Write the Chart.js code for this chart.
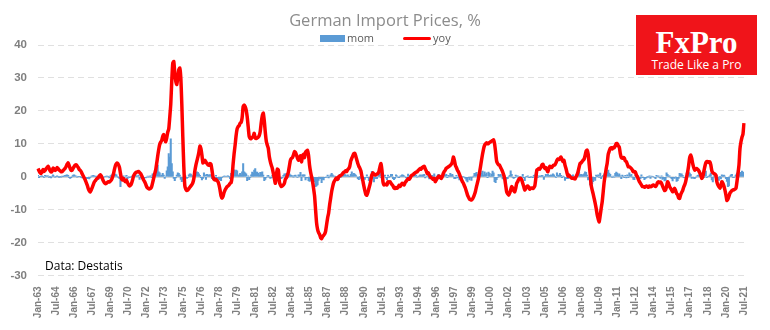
<!DOCTYPE html>
<html lang="en">
<head>
  <meta charset="UTF-8">
  <title>German Import Prices, %</title>
  <script src="https://cdn.jsdelivr.net/npm/chart.js"></script>
  <style>
    html, body {
      margin: 0;
      padding: 0;
      background: #ffffff;
    }
    .wrap {
      position: relative;
      width: 770px;
      height: 330px;
      overflow: hidden;
    }
    #chart {
      position: absolute;
      left: 0;
      top: 0;
    }
    .title {
      position: absolute;
      left: 0;
      width: 770px;
      top: 8px;
      text-align: center;
      font-family: 'Open Sans', sans-serif;
      font-size: 16.5px;
      color: #8c8c8c;
    }
    .legend {
      position: absolute;
      top: 31px;
      left: 320px;
      font-family: 'Open Sans', sans-serif;
      font-size: 11px;
      color: #595959;
      line-height: 14px;
    }
    .legend span { position: absolute; white-space: nowrap; }
    .sw-bar { width: 25px; height: 7px; background: #5b9bd5; top: 4px; }
    .sw-line { width: 28px; height: 3px; background: #ff0000; top: 6px; border-radius: 2px; }
    .source {
      position: absolute;
      left: 45px;
      top: 257px;
      font-family: 'Open Sans', sans-serif;
      font-size: 12px;
      color: #000;
    }
    .logo {
      position: absolute;
      left: 636px;
      top: 15px;
      width: 121px;
      height: 60px;
      background: #f0141a;
      color: #fff;
      text-align: center;
    }
    .logo .brand {
      position: absolute;
      left: 0; width: 121px;
      top: 12px;
      font-family: 'Liberation Serif', serif;
      font-weight: bold;
      font-size: 31px;
      line-height: 31px;
    }
    .logo .tag {
      position: absolute;
      left: 0; width: 121px;
      top: 43px;
      font-family: 'Open Sans', sans-serif;
      font-size: 12px;
      line-height: 14px;
    }
  </style>
</head>
<body>
<div class="wrap">
  <canvas id="chart" width="770" height="330"></canvas>
  <div class="title">German Import Prices, %</div>
  <div class="legend">
    <span class="sw-bar" style="left:0"></span>
    <span style="left:27px">mom</span>
    <span class="sw-line" style="left:83px"></span>
    <span style="left:113px">yoy</span>
  </div>
  <div class="source">Data: Destatis</div>
  <div class="logo">
    <div class="brand">FxPro</div>
    <div class="tag">Trade Like a Pro</div>
  </div>
</div>

<script>
// monthly series, Jan-63 .. Jul-21, one row per year
const yoy = [
  2.5, 1.8, 1.2, 1.0, 1.5, 2.2, 1.6, 1.9, 2.4, 2.8, 3.2, 2.6,
  1.8, 1.4, 1.7, 2.6, 2.4, 1.9, 2.2, 2.8, 2.5, 2.0, 1.8, 1.5,
  1.6, 1.9, 2.2, 2.6, 3.1, 3.8, 4.2, 3.4, 2.5, 1.9, 2.0, 2.6,
  3.1, 3.5, 3.6, 3.2, 2.8, 2.2, 1.9, 1.5, 0.8, 0.2, -0.4, -1.0,
  -1.8, -2.6, -3.6, -4.3, -4.6, -4.0, -3.2, -2.4, -1.6, -1.2, -0.8, -0.5,
  -0.2, 0.3, 0.6, 0.2, -0.6, -1.3, -1.8, -2.1, -2.0, -1.7, -1.5, -1.6,
  -1.3, -1.0, -0.2, 0.8, 2.2, 3.4, 4.0, 4.1, 3.6, 2.8, 1.0, -0.6,
  -1.0, -0.5, -1.2, -1.5, -1.0, -1.8, -2.4, -2.8, -2.6, -2.0, -1.0, 0.2,
  0.8, 1.2, 1.4, 1.5, 1.6, 1.3, 1.0, 0.4, -0.3, -1.0, -1.5, -2.2,
  -3.0, -3.4, -3.6, -3.7, -3.5, -3.0, -1.8, -0.5, 0.8, 2.0, 4.0, 6.2,
  8.2, 9.8, 10.5, 11.0, 12.2, 12.8, 11.5, 10.6, 11.8, 13.5, 14.5, 18.0,
  22.0, 29.0, 34.5, 35.0, 31.5, 29.0, 28.0, 30.0, 32.5, 33.0, 30.0, 22.0,
  12.0, 3.0, -2.8, -3.8, -4.2, -4.0, -3.6, -3.2, -2.8, -2.4, -1.8, -0.5,
  1.8, 3.5, 4.8, 6.0, 7.5, 9.3, 8.5, 6.5, 4.2, 4.5, 5.0, 4.5,
  4.0, 3.6, 3.5, 4.0, 3.8, 2.0, 0.0, -0.8, -1.0, -0.8, -1.2, -1.5,
  -2.5, -4.0, -5.8, -6.5, -6.0, -4.8, -4.0, -3.5, -3.0, -2.8, -2.5, -2.0,
  -1.8, 0.0, 3.8, 7.0, 9.6, 12.5, 14.5, 15.2, 15.5, 16.3, 16.5, 18.0,
  21.3, 21.8, 21.3, 20.2, 18.2, 15.2, 12.2, 11.6, 11.6, 12.0, 12.2, 13.2,
  11.7, 11.6, 11.8, 12.0, 12.5, 13.8, 16.5, 18.5, 19.3, 17.0, 13.5, 10.8,
  9.6, 8.6, 6.1, 4.6, 3.5, 2.5, 1.0, -0.5, -2.0, 0.5, 2.3, 2.0,
  -1.5, -2.5, -3.0, -2.8, -2.5, -2.0, -0.7, -0.3, 0.5, 1.5, 3.3, 5.0,
  5.6, 5.8, 6.6, 7.6, 7.4, 6.6, 5.6, 5.0, 5.4, 6.4, 4.5, 6.2,
  6.8, 5.8, 7.4, 7.8, 8.0, 6.5, 3.5, 1.5, 0.0, -1.5, -3.5, -5.8,
  -10.0, -14.0, -16.0, -17.0, -17.5, -18.5, -18.8, -18.2, -17.8, -17.4, -16.5, -14.5,
  -12.5, -11.0, -8.5, -6.5, -4.5, -3.0, -1.8, -1.2, -0.6, -0.4, -0.8, 0.0,
  0.2, 0.4, 0.6, 1.0, 1.3, 1.5, 1.8, 1.6, 2.2, 2.5, 3.2, 4.8,
  5.6, 6.3, 7.0, 7.1, 6.2, 5.1, 4.0, 3.2, 2.6, 1.8, 0.3, -1.2,
  -2.8, -4.2, -5.4, -5.6, -4.8, -3.6, -2.5, -1.0, 0.5, 1.2, 0.8, 0.5,
  0.6, 0.8, 1.0, 1.6, 3.0, 4.0, 2.0, -1.5, -2.5, -2.4, -2.2, -2.5,
  -1.5, -1.6, -1.5, -2.0, -2.4, -2.8, -3.4, -3.6, -3.3, -3.5, -3.2, -2.6,
  -3.0, -2.5, -2.0, -2.2, -2.5, -1.8, -1.4, -1.0, -0.6, -0.8, -0.4, 0.2,
  0.5, 0.6, 1.0, 1.2, 1.4, 1.5, 1.9, 2.2, 2.5, 2.3, 2.8, 3.0,
  3.2, 2.4, 1.8, 1.0, 1.2, 0.6, 0.0, -0.3, -0.5, -0.8, -0.5, -1.5,
  -1.0, -0.5, 0.0, 0.2, -0.3, -0.5, 0.0, 1.0, 1.6, 2.0, 2.6, 2.8,
  3.0, 3.2, 3.5, 3.8, 4.5, 6.0, 5.0, 3.5, 2.8, 2.0, 1.5, 0.8,
  0.0, -0.8, -1.5, -2.0, -2.8, -3.5, -4.5, -5.5, -6.2, -6.8, -7.0, -7.1,
  -6.8, -6.2, -5.4, -4.4, -3.0, -1.8, -0.5, 1.2, 3.0, 5.0, 6.8, 8.4,
  9.5, 10.0, 10.3, 10.0, 10.1, 10.4, 10.6, 10.8, 11.0, 11.2, 10.0, 7.5,
  4.8, 4.0, 3.6, 3.5, 2.8, 2.2, 1.5, 0.6, -0.5, -2.5, -4.6, -5.2,
  -5.6, -5.0, -4.0, -3.0, -3.5, -4.2, -4.6, -3.5, -2.0, -1.5, -0.8, -0.5,
  -0.5, -1.0, -2.0, -3.0, -4.0, -3.6, -3.0, -2.8, -3.2, -3.8, -3.5, -3.4,
  -3.6, -3.3, -2.8, -0.5, 2.0, 2.2, 2.5, 2.3, 2.8, 3.5, 3.8, 3.0,
  2.5, 2.8, 2.0, 1.5, 2.6, 3.2, 3.0, 2.8, 3.3, 3.5, 3.6, 4.2,
  5.0, 5.4, 5.2, 5.6, 6.0, 5.2, 4.6, 5.0, 3.5, 2.5, 1.2, 0.2,
  0.5, 0.0, -0.3, -0.5, -0.4, -0.6, -0.7, 0.0, 0.6, 1.5, 2.8, 4.0,
  4.2, 4.6, 5.0, 5.3, 6.4, 7.8, 8.1, 7.0, 4.0, 1.0, -2.5, -4.0,
  -5.2, -6.6, -8.0, -9.6, -11.5, -12.8, -13.7, -11.8, -9.6, -7.6, -4.6, -1.5,
  0.5, 2.5, 4.2, 6.8, 7.8, 8.6, 8.8, 8.4, 8.9, 8.8, 9.3, 10.1,
  10.0, 9.4, 9.0, 7.0, 5.8, 5.6, 5.8, 5.6, 4.8, 4.6, 3.8, 3.0,
  3.0, 2.8, 2.5, 2.0, 1.5, 1.6, 1.4, 0.5, 0.0, -0.8, -1.5, -2.0,
  -2.5, -3.0, -3.0, -3.2, -3.0, -2.8, -3.0, -3.2, -2.8, -3.0, -3.0, -2.6,
  -2.5, -2.8, -3.0, -2.6, -1.8, -1.5, -1.8, -1.6, -2.0, -2.8, -3.5, -4.2,
  -4.0, -3.0, -1.5, -2.0, -3.0, -3.5, -4.0, -4.6, -4.2, -3.5, -4.2, -5.1,
  -5.5, -6.4, -6.6, -5.5, -4.8, -4.2, -3.2, -2.5, -1.5, 0.0, 1.5, 3.5,
  5.8, 6.6, 5.6, 4.0, 2.8, 2.0, 2.3, 2.5, 2.2, 1.8, 1.2, 0.5,
  -0.5, 0.0, 1.5, 3.0, 4.2, 4.6, 4.6, 4.3, 4.5, 3.6, 1.8, 1.2,
  1.0, 0.8, 0.5, -1.5, -2.5, -3.0, -3.5, -2.8, -1.5, -2.0, -2.8, -4.0,
  -5.5, -7.2, -6.8, -6.0, -5.0, -4.6, -4.2, -4.0, -4.0, -3.8, -3.5, -1.5,
  1.0, 3.5, 8.5, 10.6, 12.0, 13.0, 16.3
];

const mom = [
  0.4, -0.3, 0.1, 0.2, 0.3, 0.1, -0.2, 0.4, 0.3, 0.2, 0.3, -0.2,
  0.1, -0.4, 0.2, 0.6, 0.2, -0.1, 0.1, 0.3, 0.1, -0.2, 0.1, -0.1,
  0.2, 0.1, 0.3, 0.4, 0.5, 0.6, 0.4, -0.3, -0.5, -0.3, 0.2, 0.5,
  0.6, 0.3, 0.2, -0.1, 0.1, 0.0, 0.1, -0.2, -0.4, -0.3, -0.2, -0.4,
  -0.6, -0.5, -0.6, -0.7, -0.2, 0.2, 0.3, 0.4, 0.3, 0.1, 0.2, 0.1,
  -0.8, 0.3, 0.0, -0.5, -1.0, -0.4, 0.0, 0.1, 0.2, 0.2, 0.1, -0.4,
  0.3, 0.5, 0.8, 0.6, 0.5, 0.8, 0.6, 0.1, -0.3, -0.6, -3.0, -0.3,
  0.0, 0.3, -0.3, 0.2, 0.4, -0.6, 0.0, -0.3, -0.1, 0.1, 0.3, 0.3,
  0.7, 0.6, 0.1, 0.3, 0.5, -0.8, -0.3, -0.4, -0.6, -0.6, -0.2, -0.4,
  -0.1, 0.2, -0.1, 0.2, 0.3, -0.3, 0.9, 0.9, 0.7, 0.5, 1.8, 3.5,
  1.5, 1.2, 0.3, 0.5, 1.0, 0.5, -0.5, 0.2, 1.8, 3.0, 7.0, 6.0,
  11.5, 4.0, 1.5, -0.5, -1.2, -0.4, 0.5, 1.2, 1.0, 0.5, -0.8, -1.5,
  -1.0, -1.2, -0.6, 0.2, -0.5, -0.2, 0.6, 0.9, 0.8, 0.2, 0.3, 0.5,
  1.2, 0.8, 1.5, 1.3, 0.9, 0.4, -0.3, -1.0, -0.5, 1.2, 0.6, -0.8,
  0.7, 0.5, 0.6, 0.6, 0.6, -0.6, -0.8, -0.5, -0.4, 0.4, -0.4, -1.1,
  -0.3, -1.0, -1.2, -0.2, 0.0, 0.2, 0.2, 0.0, 0.2, 0.3, 0.1, -0.6,
  1.0, 1.2, 2.0, 2.1, 1.5, 2.0, 1.8, 0.3, 0.6, 1.0, 0.5, 1.5,
  4.0, 1.5, 1.2, 0.9, -1.2, 0.3, -0.9, -0.2, 0.6, 1.4, 1.1, 2.0,
  2.5, 1.4, 1.4, 1.0, 0.5, 1.3, 1.3, 1.5, 0.5, -1.2, -0.8, -0.2,
  0.3, 0.4, -0.1, -0.5, -0.4, 0.4, -0.1, 0.0, -0.9, 1.4, 0.6, -1.0,
  -0.5, -0.2, -0.6, -0.3, 0.4, 0.9, 0.8, 1.0, -0.3, 0.3, 0.9, 0.6,
  0.4, 0.3, -0.1, 0.4, 0.5, 0.2, -0.2, 0.6, 0.5, 1.3, -1.2, 0.6,
  0.6, 0.6, -1.0, -0.4, -0.3, -1.2, -1.4, -1.1, -1.0, -0.5, -0.8, -1.5,
  -3.0, -2.8, -2.5, -1.1, -0.5, -0.6, -1.8, -0.8, -1.0, -0.3, -0.1, -0.1,
  0.5, -0.4, 0.2, 0.6, 1.0, 0.6, 0.2, 0.2, 0.0, -0.1, -0.6, -0.9,
  0.7, -0.2, 0.4, 1.0, 1.3, 0.8, 0.5, 0.0, 0.6, 0.2, 0.1, 0.7,
  1.5, 0.6, 1.0, 0.8, 0.5, 0.0, -0.6, -0.9, 0.1, -0.5, -1.2, -0.3,
  -0.2, -0.8, -0.2, 0.6, -0.3, -1.2, -0.5, 0.6, 1.6, 0.5, -1.6, -0.6,
  0.8, -0.6, 0.0, 1.2, 1.1, -0.2, -0.3, -0.3, 0.3, 0.5, -0.4, -0.9,
  0.5, -0.2, 0.1, 0.7, 0.7, -0.6, -0.9, -0.5, 0.6, 0.3, -0.1, -0.3,
  0.2, 0.3, 0.6, 0.5, 0.3, 0.0, -0.4, -0.1, 0.8, 0.2, 0.3, 0.2,
  0.5, 0.4, 0.8, 0.8, 0.5, -0.1, 0.0, 0.3, 0.6, 0.3, 0.6, 0.5,
  0.7, -0.4, 0.2, 0.0, 0.5, -0.7, -0.6, 0.0, 0.4, 0.0, 0.9, -0.5,
  0.2, 0.0, 0.7, 0.2, 0.0, -0.9, 0.0, 0.9, 1.0, 0.4, 0.7, -0.3,
  0.4, 0.2, 1.0, 0.5, 0.7, 0.2, -0.6, -0.6, 0.4, -0.4, 0.2, -1.0,
  -0.4, -0.6, 0.0, 0.0, -0.1, -0.5, -1.1, -1.6, -0.3, -1.0, -0.1, -1.1,
  -0.1, 0.2, 1.0, 1.0, 1.3, 0.7, 0.2, 0.6, 1.5, 1.0, 1.7, 0.5,
  1.5, 0.7, 1.2, -0.3, 1.4, 1.0, 0.0, 0.8, 1.7, 1.2, -1.5, -1.8,
  -0.9, -0.2, 0.7, 0.4, 0.7, 0.3, -0.7, -0.3, 0.3, -2.0, -0.7, -0.6,
  0.0, 0.4, 1.8, 0.7, -0.2, -0.5, -0.3, 0.5, 0.2, 0.3, -0.3, 0.0,
  -0.1, -0.1, 0.7, -0.3, -1.2, 0.0, 0.1, 0.3, -0.2, -0.3, 0.0, -0.1,
  -0.3, 0.4, 0.6, 1.2, 1.0, -0.2, 0.3, 0.1, 0.3, 0.4, 0.3, -0.8,
  0.1, 0.7, 0.0, 0.7, 0.2, 0.4, 0.6, 0.4, 0.9, 0.6, 0.1, -0.2,
  1.2, 0.5, 0.2, 1.0, 0.4, -0.3, 0.2, 0.0, -1.1, -0.6, -0.4, -0.6,
  0.5, 0.0, 0.3, 0.3, 0.6, -0.4, 0.1, 0.0, 0.4, 0.6, 1.4, 0.4,
  0.7, 0.6, 0.6, 0.9, 1.5, 1.3, 0.5, -1.0, -0.6, -2.5, -3.0, -2.2,
  -1.5, -0.7, -1.1, 0.5, 0.1, 0.6, -0.2, 1.1, -0.6, 0.1, 0.4, 0.9,
  1.2, 1.2, 1.3, 2.0, 1.1, 0.7, 0.0, -0.2, 0.2, -0.1, 1.0, 1.4,
  1.1, 0.5, 0.9, 0.3, -0.6, 0.5, 0.2, -0.3, 0.4, -0.4, 0.6, -0.3,
  1.2, 0.4, 0.7, -0.1, -0.8, -0.9, 0.6, 0.6, 0.4, -0.6, -0.3, -0.6,
  0.6, -0.3, -0.3, -0.9, -0.5, -0.4, 0.1, -0.1, 0.3, -0.5, 0.2, 0.0,
  0.0, -0.2, -0.6, 0.4, 0.0, 0.3, -0.2, -0.5, 0.3, -0.8, -0.6, -1.3,
  -1.1, 1.2, 0.7, 0.2, 0.3, -0.2, -0.6, -1.3, -0.4, -0.5, 0.0, -1.4,
  -1.2, -0.5, 1.0, 0.8, 0.9, 0.4, -0.3, -0.4, 0.2, 1.1, 0.9, 1.4,
  1.1, 0.7, -0.5, -0.2, -0.5, -0.6, -0.1, 0.2, 0.4, 0.6, 0.4, 0.1,
  -0.3, -0.4, -0.3, 1.2, 1.7, -0.3, 0.1, 0.2, 0.6, 1.1, -1.0, -1.6,
  0.3, 0.3, 0.1, 0.4, -0.2, -1.1, 0.1, -0.7, 0.6, 0.3, 0.5, 0.2,
  -0.6, -1.4, -3.0, -2.8, 0.2, 0.6, 0.7, -0.2, -0.2, 0.2, 0.6, 1.1,
  1.9, 1.7, 1.3, 1.3, 1.7, 1.3, 1.4
];

const monthNames = ['Jan', 'Feb', 'Mar', 'Apr', 'May', 'Jun', 'Jul', 'Aug', 'Sep', 'Oct', 'Nov', 'Dec'];
const firstYear = 1963;
const labelEvery = 18; // Jan-63, Jul-64, Jan-66 ...
const yTicks = [40, 30, 20, 10, 0, -10, -20, -30];

const months = yoy.map((_, i) => {
  const y = (firstYear + Math.floor(i / 12)) % 100;
  return monthNames[i % 12] + '-' + String(y).padStart(2, '0');
});

// solid line along zero, the rest of the grid stays dashed
const zeroLine = {
  id: 'zeroLine',
  beforeDatasetsDraw(chart) {
    const { ctx, chartArea, scales } = chart;
    const y = Math.round(scales.y.getPixelForValue(0)) + 0.5;
    ctx.save();
    ctx.strokeStyle = '#d6d6d6';
    ctx.lineWidth = 1;
    ctx.beginPath();
    ctx.moveTo(chartArea.left, y);
    ctx.lineTo(chartArea.right, y);
    ctx.stroke();
    ctx.restore();
  }
};

new Chart(document.getElementById('chart'), {
  data: {
    labels: months,
    datasets: [
      {
        type: 'line',
        label: 'yoy',
        data: yoy,
        borderColor: '#ff0000',
        borderWidth: 3.5,
        pointRadius: 0,
        tension: 0.2,
        order: 1
      },
      {
        type: 'bar',
        label: 'mom',
        data: mom,
        backgroundColor: '#5b9bd5',
        barThickness: 1.4,
        order: 2
      }
    ]
  },
  options: {
    responsive: false,
    animation: false,
    layout: { padding: { top: 45, right: 26, left: 0, bottom: 0 } },
    plugins: {
      legend: { display: false },
      title: { display: false },
      tooltip: { enabled: false }
    },
    scales: {
      x: {
        offset: false,
        grid: { display: false },
        border: { display: false },
        ticks: {
          autoSkip: false,
          minRotation: 90,
          maxRotation: 90,
          padding: 3,
          color: '#7f7f7f',
          font: { family: 'Liberation Sans', size: 10, weight: 'bold' },
          callback: (v, i) => (i % labelEvery === 0 ? months[i] : '')
        },
        afterFit: (scale) => { scale.height = 54.5; }
      },
      y: {
        min: -30,
        max: 40,
        afterBuildTicks: (scale) => { scale.ticks = yTicks.map(v => ({ value: v })); },
        grid: { color: '#e0e0e0', drawTicks: false },
        border: { display: false, dash: [6, 4] },
        ticks: {
          padding: 11,
          color: '#7f7f7f',
          font: { family: 'Liberation Sans', size: 11.5, weight: 'bold' }
        },
        afterFit: (scale) => { scale.width = 38; }
      }
    }
  },
  plugins: [zeroLine]
});
</script>
</body>
</html>
